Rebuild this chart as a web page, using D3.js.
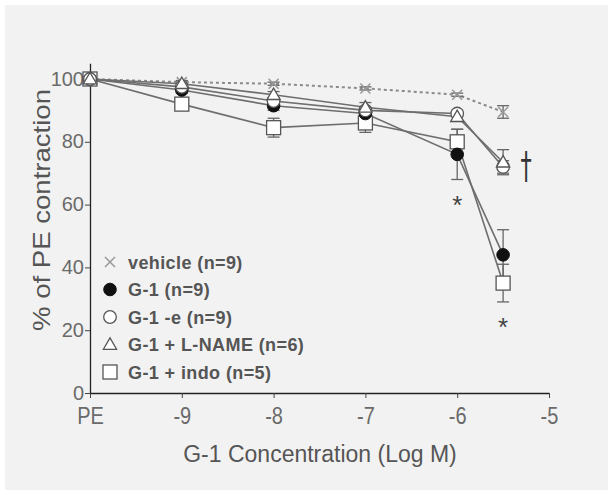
<!DOCTYPE html>
<html>
<head>
<meta charset="utf-8">
<script src="https://cdn.jsdelivr.net/npm/d3@7"></script>
<style>
  body { margin: 0; background: #fff; }
  text { font-family: "Liberation Sans", Arial, sans-serif; }
</style>
</head>
<body>
<div id="chart"></div>
<script>
// dose positions on the log axis, PE baseline drawn at -10
const doses = [-10, -9, -8, -7, -6, -5.5]
const xTicks = [-10, -9, -8, -7, -6, -5]
const yTicks = [0, 20, 40, 60, 80, 100]

const vehicle = [100, 99, 98.5, 97, 95, 89.5]
const vehicleErr = [0, 0.5, 0.5, 0.5, 0.5, 2]
const g1 = [100, 96.5, 91.5, 89, 76, 44]
const g1Err = [0, 1, 1.5, 1.5, 8, 8]
const g1e = [100, 97.5, 93, 90, 89, 72]
const g1eErr = [0, 1, 1, 1, 1, 2]
const lname = [100, 98.5, 95, 91, 88, 73.5]
const lnameErr = [0, 1, 1, 1.5, 1.5, 4]
const indo = [100, 92, 84.5, 86, 80, 35]
const indoErr = [0, 1, 3, 3, 4, 6]

const legendLabels = ['vehicle (n=9)', 'G-1 (n=9)', 'G-1 -e (n=9)', 'G-1 + L-NAME (n=6)', 'G-1 + indo (n=5)']

const width = 613, height = 495

const svg = d3.select('#chart').append('svg')
    .attr('width', width)
    .attr('height', height)

svg.append('rect')
    .attr('x', 5).attr('y', 5)
    .attr('width', 603).attr('height', 485)
    .attr('fill', '#f2f2f2')

const x = d3.scaleLinear().domain([-10, -5]).range([90, 549])
const y = d3.scaleLinear().domain([0, 105]).range([393, 63.3])

const series = [
    {name: 'vehicle', values: vehicle, err: vehicleErr, shape: 'cross', dash: '3,3'},
    {name: 'g1', values: g1, err: g1Err, shape: 'filled'},
    {name: 'g1e', values: g1e, err: g1eErr, shape: 'circle'},
    {name: 'lname', values: lname, err: lnameErr, shape: 'triangle'},
    {name: 'indo', values: indo, err: indoErr, shape: 'square'}
]

// axes
const xAxis = svg.append('g')
    .attr('transform', `translate(0, ${y(0)})`)
    .call(d3.axisBottom(x).tickValues(xTicks).tickSize(5).tickSizeOuter(0)
        .tickFormat(d => d === -10 ? 'PE' : String(d)))
const yAxis = svg.append('g')
    .attr('transform', `translate(${x(-10)}, 0)`)
    .call(d3.axisLeft(y).tickValues(yTicks).tickSize(5).tickSizeOuter(0)
        .tickFormat(d => String(d)))

;[xAxis, yAxis].forEach(g => {
    g.select('.domain').attr('stroke', '#222').attr('stroke-width', 1.3)
    g.selectAll('.tick line').attr('stroke', '#444')
    g.selectAll('.tick text')
        .attr('fill', '#6a6a6a')
        .style('font-size', '20px')
        .style('font-family', '"Liberation Sans", Arial, sans-serif')
})
xAxis.selectAll('.tick text').attr('y', 9).attr('dy', '18.4px')
    .attr('transform', 'scale(1, 1.15)')
yAxis.selectAll('.tick text').attr('x', -6).attr('dy', '0.3em')

svg.append('text')
    .attr('transform', 'translate(50, 210) rotate(-90)')
    .attr('text-anchor', 'middle')
    .attr('fill', '#555')
    .attr('textLength', 242)
    .attr('lengthAdjust', 'spacingAndGlyphs')
    .style('font-size', '24px')
    .text('% of PE contraction')

svg.append('text')
    .attr('x', 320).attr('y', 462)
    .attr('text-anchor', 'middle')
    .attr('fill', '#555')
    .style('font-size', '23px')
    .text('G-1 Concentration (Log M)')

// connecting lines
const line = d3.line()
    .x((d, i) => x(doses[i]))
    .y(d => y(d))

series.forEach(s => {
    svg.append('path')
        .datum(s.values)
        .attr('d', line)
        .attr('fill', 'none')
        .attr('stroke', s.dash ? '#8a8a8a' : '#6e6e6e')
        .attr('stroke-width', s.dash ? 2 : 1.6)
        .attr('stroke-dasharray', s.dash || null)
})

// error bars
series.forEach(s => {
    const g = svg.append('g').attr('stroke', '#666').attr('stroke-width', 1.3)
    s.values.forEach((v, i) => {
        if (!s.err[i]) return
        const cx = x(doses[i])
        const lo = y(v - s.err[i]), hi = y(v + s.err[i])
        g.append('line').attr('x1', cx).attr('x2', cx).attr('y1', lo).attr('y2', hi)
        g.append('line').attr('x1', cx - 6).attr('x2', cx + 6).attr('y1', lo).attr('y2', lo)
        g.append('line').attr('x1', cx - 6).attr('x2', cx + 6).attr('y1', hi).attr('y2', hi)
    })
})

const drawMarker = (g, shape, cx, cy) => {
    if (shape === 'cross') {
        g.append('path')
            .attr('d', `M${cx - 5},${cy - 5}L${cx + 5},${cy + 5}M${cx - 5},${cy + 5}L${cx + 5},${cy - 5}`)
            .attr('stroke', '#999').attr('stroke-width', 1.5)
    } else if (shape === 'filled') {
        g.append('circle').attr('cx', cx).attr('cy', cy).attr('r', 6.3)
            .attr('fill', '#111').attr('stroke', '#111')
    } else if (shape === 'circle') {
        g.append('circle').attr('cx', cx).attr('cy', cy).attr('r', 6.3)
            .attr('fill', '#fff').attr('stroke', '#555').attr('stroke-width', 1.3)
    } else if (shape === 'triangle') {
        g.append('path')
            .attr('d', d3.symbol(d3.symbolTriangle, 75)())
            .attr('transform', `translate(${cx}, ${cy + 1})`)
            .attr('fill', '#fff').attr('stroke', '#555').attr('stroke-width', 1.3)
    } else {
        g.append('rect').attr('x', cx - 7).attr('y', cy - 7)
            .attr('width', 14).attr('height', 14)
            .attr('fill', '#fff').attr('stroke', '#555').attr('stroke-width', 1.3)
    }
}

// markers
const markerOrder = ['vehicle', 'indo', 'g1', 'g1e', 'lname']
markerOrder.forEach(name => {
    const s = series.find(d => d.name === name)
    const g = svg.append('g')
    s.values.forEach((v, i) => drawMarker(g, s.shape, x(doses[i]), y(v)))
})

// significance marks
svg.append('text').attr('x', x(-6)).attr('y', 214)
    .attr('text-anchor', 'middle').attr('fill', '#444')
    .style('font-size', '26px').text('*')
svg.append('text').attr('x', x(-5.5)).attr('y', 336)
    .attr('text-anchor', 'middle').attr('fill', '#444')
    .style('font-size', '26px').text('*')
svg.append('text')
    .attr('transform', 'translate(526, 178) scale(0.75, 1.25)')
    .attr('text-anchor', 'middle').attr('fill', '#333')
    .style('font-family', '"DejaVu Sans", sans-serif')
    .style('font-size', '30px').text('\u2020')

// legend
const legend = svg.append('g')
legendLabels.forEach((label, i) => {
    const ly = 262 + i * 27.5
    drawMarker(legend, series[i].shape, 110, ly)
    legend.append('text')
        .attr('x', 128).attr('y', ly + 6.5)
        .attr('fill', '#555')
        .style('font-size', '18px')
        .style('font-weight', 'bold')
        .style('letter-spacing', '0.4px')
        .text(label)
})
</script>
</body>
</html>
